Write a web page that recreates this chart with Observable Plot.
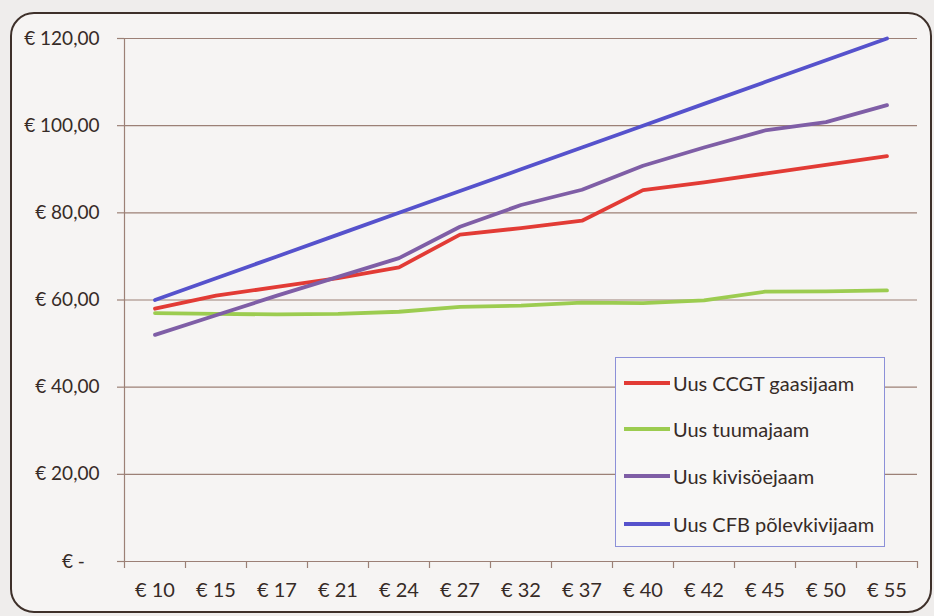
<!DOCTYPE html>
<html><head><meta charset="utf-8">
<script src="https://cdn.jsdelivr.net/npm/d3@7"></script>
<script src="https://cdn.jsdelivr.net/npm/@observablehq/plot@0.6"></script>
<style>
body{margin:0;background:#efedec;}
#wrap{position:relative;width:934px;height:616px;overflow:hidden;font-family:Lato,"Open Sans",sans-serif;}
#frame{position:absolute;left:10px;top:12px;width:922px;height:601px;border:2px solid #3e302a;border-radius:24px;background:#f6f4f3;box-sizing:border-box;}
#chart{position:absolute;left:0;top:0;}
#legend{position:absolute;left:615px;top:357px;width:270px;height:190px;border:1px solid #8c90d8;background:#f8f7f6;box-sizing:border-box;}
.row{position:absolute;left:8px;height:24px;margin-top:-12px;display:flex;align-items:center;font-size:20px;color:#362b27;white-space:nowrap;}
.sw{width:46px;height:4px;margin-right:3px;}
</style></head>
<body>
<div id="wrap"><div id="frame"></div><div id="chart"></div><div id="legend"></div></div>
<script>
const xLabels = ["€ 10","€ 15","€ 17","€ 21","€ 24","€ 27","€ 32","€ 37","€ 40","€ 42","€ 45","€ 50","€ 55"];
const seriesNames = ["Uus CCGT gaasijaam","Uus tuumajaam","Uus kivisöejaam","Uus CFB põlevkivijaam"];
const seriesColors = ["#e23b35","#9ccc50","#7f5ea6","#5652cc"];
const ccgt    = [58, 61, 63, 65, 67.5, 75, 76.5, 78.2, 85.2, 87, 89, 91, 93];
const nuclear = [57, 56.8, 56.7, 56.8, 57.3, 58.4, 58.7, 59.4, 59.3, 59.9, 61.9, 62, 62.2];
const coal    = [52, 56.5, 61, 65.3, 69.6, 76.8, 81.8, 85.3, 90.8, 95, 98.9, 100.8, 104.7];
const cfb     = [60, 65, 70, 75, 80, 85, 90, 95, 100, 105, 110, 115, 120];
const yTicks = [0, 20, 40, 60, 80, 100, 120];

const allSeries = [ccgt, nuclear, coal, cfb];
const data = allSeries.flatMap((vals, s) => vals.map((v, i) => ({series: seriesNames[s], i, v})));
const boundaries = d3.range(xLabels.length + 1).map(i => i - 0.5);
const gridColor = "#9c8076";
const textColor = "#362b27";
const fmt = v => v === 0 ? "€ -\u00a0\u00a0\u00a0" : "€ " + v.toFixed(2).replace(".", ",");

const chart = Plot.plot({
  width: 934, height: 616,
  marginLeft: 124, marginRight: 17, marginTop: 38, marginBottom: 55,
  style: {background: "transparent", fontFamily: "Lato, 'Open Sans', sans-serif", color: textColor},
  x: {domain: [-0.5, xLabels.length - 0.5]},
  y: {domain: [0, 120]},
  color: {domain: seriesNames, range: seriesColors},
  marks: [
    Plot.gridY(yTicks, {stroke: gridColor, strokeOpacity: 1, strokeWidth: 1.2}),
    Plot.axisY({ticks: yTicks, tickSize: 7, tickPadding: 18, tickFormat: fmt, fontSize: 19, stroke: gridColor, strokeWidth: 1.2, fill: textColor, label: null}),
    Plot.ruleX([-0.5], {stroke: gridColor, strokeWidth: 1.2}),
    Plot.ruleY([0], {stroke: gridColor, strokeWidth: 1.2}),
    Plot.axisX({ticks: boundaries, tickSize: 7, tickFormat: () => "", stroke: gridColor, strokeWidth: 1.2, label: null}),
    Plot.axisX({ticks: d3.range(xLabels.length), tickSize: 0, tickPadding: 21, tickFormat: i => xLabels[i], fontSize: 20, fill: textColor, label: null}),
    Plot.lineY(data, {x: "i", y: "v", z: "series", stroke: "series", strokeWidth: 3.8, strokeLinejoin: "round"})
  ]
});
document.getElementById("chart").appendChild(chart);

const legend = document.getElementById("legend");
const rowTops = [25, 71, 118, 166];
seriesNames.forEach((n, k) => {
  const r = document.createElement("div");
  r.className = "row";
  r.style.top = rowTops[k] + "px";
  r.innerHTML = `<div class="sw" style="background:${seriesColors[k]}"></div><span>${n}</span>`;
  legend.appendChild(r);
});
</script>
</body></html>
